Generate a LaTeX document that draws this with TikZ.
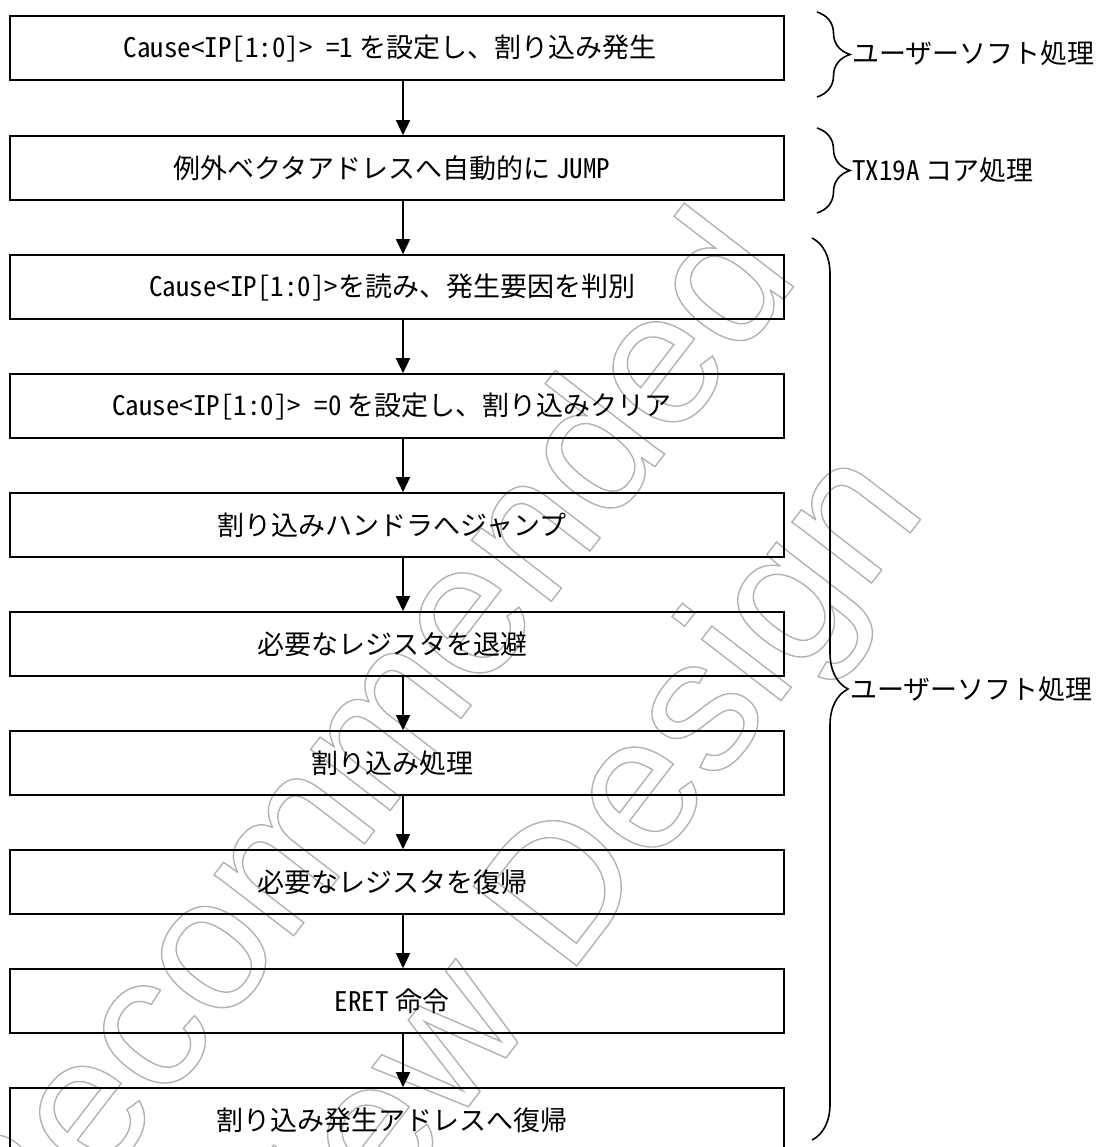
\documentclass[tikz,border=0pt]{standalone}
\usepackage{fontspec}
\setmainfont{Noto Sans CJK JP}
\newfontfamily\hwfont[RawFeature=+hwid]{Noto Sans CJK JP}
\newfontfamily\wmfont{Liberation Sans}
\usetikzlibrary{arrows.meta,decorations.pathreplacing}
\newcommand\outl[1]{\special{pdf:literal direct 1 Tr 1.4 w}#1\special{pdf:literal direct 0 Tr}}
\begin{document}
\begin{tikzpicture}[x=1pt,y=-1pt,
  stepbox/.style={draw, line width=1.6pt, minimum width=774pt, minimum height=64pt,
    inner sep=0pt, font=\fontsize{27}{32}\selectfont},
  flow/.style={line width=1.5pt, -{Triangle[width=14pt,length=15pt]}},
  brc/.style={decorate, decoration={brace, amplitude=#1}, line width=1.6pt},
  side/.style={anchor=west, inner sep=0pt, font=\fontsize{27}{32}\selectfont},
  wm/.style={rotate=52.4, anchor=base, inner sep=0pt, text=black!30,
    font=\wmfont\fontsize{190}{220}\selectfont}
]
\useasboundingbox (0,0) rectangle (1099,1147);
\clip (0,0) rectangle (1099,1147);
% watermark
\node[wm] (wm1) at (302,925) {\outl{Not Recommended}};
\node[wm] (wm2) at (532,1024) {\outl{for New Design}};
% boxes
\node[stepbox] (b1) at (397,48)   {{\hwfont Cause<IP[1:0]> =1} を設定し、割り込み発生\hspace*{14pt}};
\node[stepbox] (b2) at (397,168)  {例外ベクタアドレスへ自動的に {\hwfont JUMP}\hspace*{10pt}};
\node[stepbox] (b3) at (397,287)  {{\hwfont Cause<IP[1:0]>}を読み、発生要因を判別\hspace*{10pt}};
\node[stepbox] (b4) at (397,406)  {{\hwfont Cause<IP[1:0]> =0} を設定し、割り込みクリア\hspace*{10pt}};
\node[stepbox] (b5) at (397,525)  {割り込みハンドラへジャンプ\hspace*{10pt}};
\node[stepbox] (b6) at (397,644)  {必要なレジスタを退避\hspace*{10pt}};
\node[stepbox] (b7) at (397,763)  {割り込み処理\hspace*{10pt}};
\node[stepbox] (b8) at (397,882)  {必要なレジスタを復帰\hspace*{10pt}};
\node[stepbox] (b9) at (397,1001) {{\hwfont ERET} 命令\hspace*{10pt}};
\node[stepbox] (b10) at (397,1120) {割り込み発生アドレスへ復帰\hspace*{10pt}};
% arrows
\coordinate (ax) at (403,0);
\foreach \a/\b in {b1/b2,b2/b3,b3/b4,b4/b5,b5/b6,b6/b7,b7/b8,b8/b9,b9/b10}
  \draw[flow] (\a.south -| ax) -- (\b.north -| ax);
% braces
\coordinate (br1a) at (817,12);   \coordinate (br1b) at (817,97);
\coordinate (br2a) at (817,128);  \coordinate (br2b) at (817,213);
\coordinate (br3a) at (812,238);  \coordinate (br3b) at (812,1140);
\draw[brc=33] (br1a) -- (br1b);
\draw[brc=33] (br2a) -- (br2b);
\draw[brc=36] (br3a) -- (br3b);
\node[side] (l1) at (852,53)  {ユーザーソフト処理};
\node[side] (l2) at (852,170) {{\hwfont TX19A} コア処理};
\node[side] (l3) at (850,689) {ユーザーソフト処理};
\end{tikzpicture}
\end{document}
